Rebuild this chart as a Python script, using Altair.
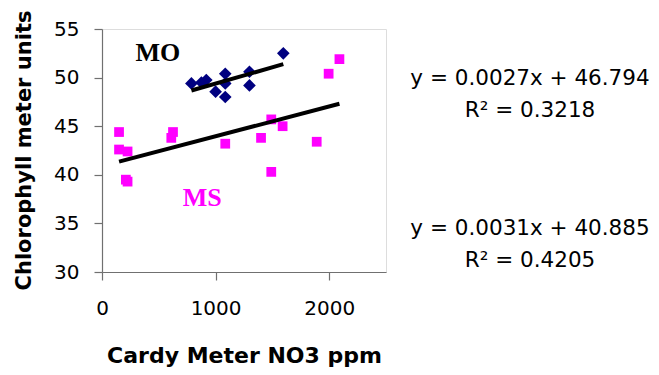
import altair as alt
import pandas as pd

# ---- data ----
mo_x = [787, 875, 918, 1000, 1085, 1085, 1085, 1298, 1298, 1596]
mo_y = [49.4, 49.5, 49.75, 48.55, 50.4, 49.4, 48.0, 50.6, 49.2, 52.5]

ms_x = [150, 150, 225, 210, 225, 610, 625, 1085, 1400, 1490, 1490, 1590, 1890, 1995, 2090]
ms_y = [44.4, 42.6, 42.4, 39.5, 39.3, 43.8, 44.4, 43.2, 43.8, 45.7, 40.3, 45.0, 43.4, 50.4, 51.9]

x_ticks = [0, 1000, 2000]
y_ticks = [30, 35, 40, 45, 50, 55]

series_names = ["MO", "MS"]
series_colors = ["#000080", "#FF00FF"]
label_colors = ["#000000", "#FF00FF"]

eq_mo = ["y = 0.0027x + 46.794", "R\u00b2 = 0.3218"]
eq_ms = ["y = 0.0031x + 40.885", "R\u00b2 = 0.4205"]

x_title = "Cardy Meter NO3 ppm"
y_title = "Chlorophyll meter units"

# ---- tables ----
mo_df = pd.DataFrame({"x": mo_x, "y": mo_y})
ms_df = pd.DataFrame({"x": ms_x, "y": ms_y})

xs = alt.Scale(domain=[0, 2500], nice=False, zero=False)
ys = alt.Scale(domain=[30, 55], nice=False, zero=False)

x_axis = alt.Axis(
    values=x_ticks, format="d", grid=False, tickSize=8, domainColor="#707070", tickColor="#707070",
    domainWidth=1.2, tickWidth=1.2,
    labelFont="DejaVu Sans", labelFontSize=20, labelColor="#000000",
    labelBaseline="alphabetic", labelPadding=34, labelFlush=False,
    title=x_title, titleFont="DejaVu Sans", titleFontSize=22, titleFontWeight="bold",
    titleColor="#000000", titleX=142, titleY=90, titleBaseline="alphabetic", titleAlign="center",
)
y_axis = alt.Axis(
    values=y_ticks, format="d", grid=False, tickSize=8, domainColor="#707070", tickColor="#707070",
    domainWidth=1.2, tickWidth=1.2,
    labelFont="DejaVu Sans", labelFontSize=20, labelColor="#000000",
    labelBaseline="middle", labelPadding=15, labelFlush=False,
    title=y_title, titleFont="DejaVu Sans", titleFontSize=21, titleFontWeight="bold",
    titleColor="#000000", titleX=-72, titleY=121, titleBaseline="alphabetic", titleAlign="center",
    titleAngle=270,
)

x_enc = alt.X("x:Q", scale=xs, axis=x_axis)
y_enc = alt.Y("y:Q", scale=ys, axis=y_axis)

mo_pts = alt.Chart(mo_df).mark_point(
    shape="diamond", filled=True, size=160, color=series_colors[0], opacity=1
).encode(x=x_enc, y=y_enc)

ms_pts = alt.Chart(ms_df).mark_point(
    shape="square", filled=True, size=95, color=series_colors[1], opacity=1
).encode(x=alt.X("x:Q", scale=xs), y=alt.Y("y:Q", scale=ys))

mo_line = alt.Chart(mo_df).transform_regression("x", "y").mark_line(
    color="#000000", strokeWidth=4
).encode(x=alt.X("x:Q", scale=xs), y=alt.Y("y:Q", scale=ys))

ms_line = alt.Chart(ms_df).transform_regression("x", "y").mark_line(
    color="#000000", strokeWidth=4
).encode(x=alt.X("x:Q", scale=xs), y=alt.Y("y:Q", scale=ys))

lab_df = pd.DataFrame({"name": series_names, "x": [491, 882], "y": [52.5, 37.6],
                       "c": label_colors})
labels = alt.Chart(lab_df).mark_text(
    font="Liberation Serif", fontSize=26, fontWeight="bold", baseline="middle", align="center"
).encode(
    x=alt.X("x:Q", scale=xs), y=alt.Y("y:Q", scale=ys), text="name:N",
    color=alt.Color("c:N", scale=None),
)

def eq_text(txt, yv):
    return alt.Chart(pd.DataFrame({"t": [txt]})).mark_text(
        font="DejaVu Sans", fontSize=21.5, color="#000000", align="center",
        baseline="alphabetic", clip=False,
    ).encode(x=alt.value(428), y=alt.value(yv), text="t:N")

eqs = (eq_text(eq_mo[0], 56) + eq_text(eq_mo[1], 88) +
       eq_text(eq_ms[0], 206) + eq_text(eq_ms[1], 238))

chart = alt.layer(mo_pts, ms_pts, mo_line, ms_line, labels, eqs).properties(
    width=284, height=243,
    autosize=alt.AutoSizeParams(type="none"),
    padding={"left": 94, "top": 21, "right": 265, "bottom": 95},
).configure_view(stroke=None).configure(background="#ffffff")

chart.save("out.html", embed_options={"renderer": "svg", "actions": False})
